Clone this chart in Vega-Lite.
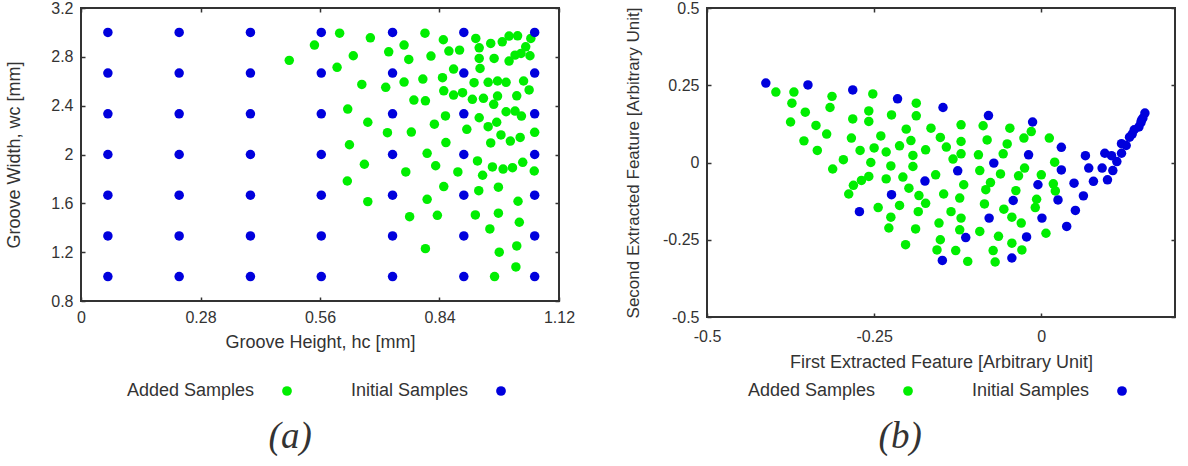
{
  "$schema": "https://vega.github.io/schema/vega-lite/v6.json",
  "background": "white",
  "padding": {"left": 4, "top": -1, "right": 0, "bottom": 0},
  "bounds": "flush",
  "spacing": 148,
  "config": {
    "view": {"stroke": "#333", "strokeWidth": 2},
    "font": "Liberation Sans",
    "axis": {
      "grid": false,
      "domain": false,
      "ticks": true,
      "tickSize": -4,
      "tickWidth": 1.5,
      "tickColor": "#333",
      "labelFont": "Liberation Sans",
      "labelFontSize": 16,
      "labelColor": "#333",
      "labelPadding": 12,
      "labelFlush": false,
      "labelOverlap": false,
      "titleFont": "Liberation Sans",
      "titleFontSize": 18,
      "titleFontWeight": "normal",
      "titleColor": "#333"
    },
    "legend": {
      "orient": "none",
      "direction": "horizontal",
      "labelFont": "Liberation Sans",
      "labelFontSize": 18,
      "labelColor": "#333",
      "labelAlign": "right",
      "labelOffset": -42,
      "symbolType": "circle",
      "symbolSize": 95,
      "symbolStrokeWidth": 0,
      "columnPadding": 58,
      "padding": 0
    },
    "title": {
      "orient": "bottom",
      "anchor": "middle",
      "frame": "bounds",
      "font": "Liberation Serif",
      "fontStyle": "italic",
      "fontWeight": "normal",
      "fontSize": 37,
      "color": "#333",
      "offset": 19
    }
  },
  "datasets": {
    "grooveSamples": [
      {"h": 0.488, "w": 2.771, "set": "Added Samples"},
      {"h": 0.547, "w": 2.896, "set": "Added Samples"},
      {"h": 0.606, "w": 2.994, "set": "Added Samples"},
      {"h": 0.678, "w": 2.956, "set": "Added Samples"},
      {"h": 0.638, "w": 2.809, "set": "Added Samples"},
      {"h": 0.600, "w": 2.714, "set": "Added Samples"},
      {"h": 0.658, "w": 2.574, "set": "Added Samples"},
      {"h": 0.714, "w": 2.550, "set": "Added Samples"},
      {"h": 0.721, "w": 2.841, "set": "Added Samples"},
      {"h": 0.757, "w": 2.896, "set": "Added Samples"},
      {"h": 0.806, "w": 2.994, "set": "Added Samples"},
      {"h": 0.768, "w": 2.779, "set": "Added Samples"},
      {"h": 0.820, "w": 2.806, "set": "Added Samples"},
      {"h": 0.849, "w": 2.940, "set": "Added Samples"},
      {"h": 0.862, "w": 2.847, "set": "Added Samples"},
      {"h": 0.887, "w": 2.855, "set": "Added Samples"},
      {"h": 0.873, "w": 2.700, "set": "Added Samples"},
      {"h": 0.757, "w": 2.593, "set": "Added Samples"},
      {"h": 0.801, "w": 2.618, "set": "Added Samples"},
      {"h": 0.847, "w": 2.629, "set": "Added Samples"},
      {"h": 0.850, "w": 2.522, "set": "Added Samples"},
      {"h": 0.873, "w": 2.487, "set": "Added Samples"},
      {"h": 0.894, "w": 2.506, "set": "Added Samples"},
      {"h": 0.780, "w": 2.446, "set": "Added Samples"},
      {"h": 0.807, "w": 2.440, "set": "Added Samples"},
      {"h": 0.925, "w": 2.951, "set": "Added Samples"},
      {"h": 0.933, "w": 2.874, "set": "Added Samples"},
      {"h": 0.933, "w": 2.787, "set": "Added Samples"},
      {"h": 0.935, "w": 2.705, "set": "Added Samples"},
      {"h": 0.960, "w": 2.910, "set": "Added Samples"},
      {"h": 0.968, "w": 2.787, "set": "Added Samples"},
      {"h": 0.987, "w": 2.923, "set": "Added Samples"},
      {"h": 1.003, "w": 2.970, "set": "Added Samples"},
      {"h": 1.023, "w": 2.972, "set": "Added Samples"},
      {"h": 1.054, "w": 2.951, "set": "Added Samples"},
      {"h": 1.042, "w": 2.882, "set": "Added Samples"},
      {"h": 1.017, "w": 2.814, "set": "Added Samples"},
      {"h": 1.031, "w": 2.828, "set": "Added Samples"},
      {"h": 1.003, "w": 2.765, "set": "Added Samples"},
      {"h": 1.052, "w": 2.809, "set": "Added Samples"},
      {"h": 0.921, "w": 2.588, "set": "Added Samples"},
      {"h": 0.954, "w": 2.591, "set": "Added Samples"},
      {"h": 0.976, "w": 2.602, "set": "Added Samples"},
      {"h": 0.996, "w": 2.591, "set": "Added Samples"},
      {"h": 1.037, "w": 2.602, "set": "Added Samples"},
      {"h": 1.050, "w": 2.529, "set": "Added Samples"},
      {"h": 0.917, "w": 2.452, "set": "Added Samples"},
      {"h": 0.943, "w": 2.460, "set": "Added Samples"},
      {"h": 0.967, "w": 2.411, "set": "Added Samples"},
      {"h": 0.976, "w": 2.479, "set": "Added Samples"},
      {"h": 1.021, "w": 2.481, "set": "Added Samples"},
      {"h": 0.996, "w": 2.350, "set": "Added Samples"},
      {"h": 1.017, "w": 2.356, "set": "Added Samples"},
      {"h": 1.032, "w": 2.315, "set": "Added Samples"},
      {"h": 0.933, "w": 2.301, "set": "Added Samples"},
      {"h": 0.974, "w": 2.264, "set": "Added Samples"},
      {"h": 0.954, "w": 2.228, "set": "Added Samples"},
      {"h": 0.904, "w": 2.206, "set": "Added Samples"},
      {"h": 0.984, "w": 2.160, "set": "Added Samples"},
      {"h": 1.006, "w": 2.110, "set": "Added Samples"},
      {"h": 1.029, "w": 2.140, "set": "Added Samples"},
      {"h": 1.063, "w": 2.182, "set": "Added Samples"},
      {"h": 0.960, "w": 2.095, "set": "Added Samples"},
      {"h": 0.854, "w": 2.316, "set": "Added Samples"},
      {"h": 0.828, "w": 2.248, "set": "Added Samples"},
      {"h": 0.855, "w": 2.098, "set": "Added Samples"},
      {"h": 0.625, "w": 2.372, "set": "Added Samples"},
      {"h": 0.672, "w": 2.264, "set": "Added Samples"},
      {"h": 0.629, "w": 2.080, "set": "Added Samples"},
      {"h": 0.664, "w": 1.920, "set": "Added Samples"},
      {"h": 0.624, "w": 1.783, "set": "Added Samples"},
      {"h": 0.672, "w": 1.614, "set": "Added Samples"},
      {"h": 0.718, "w": 2.179, "set": "Added Samples"},
      {"h": 0.774, "w": 2.184, "set": "Added Samples"},
      {"h": 0.761, "w": 1.857, "set": "Added Samples"},
      {"h": 0.811, "w": 2.010, "set": "Added Samples"},
      {"h": 0.831, "w": 1.908, "set": "Added Samples"},
      {"h": 0.850, "w": 1.737, "set": "Added Samples"},
      {"h": 0.883, "w": 1.857, "set": "Added Samples"},
      {"h": 0.929, "w": 1.947, "set": "Added Samples"},
      {"h": 0.941, "w": 1.830, "set": "Added Samples"},
      {"h": 0.964, "w": 1.898, "set": "Added Samples"},
      {"h": 0.989, "w": 1.881, "set": "Added Samples"},
      {"h": 1.011, "w": 1.892, "set": "Added Samples"},
      {"h": 1.035, "w": 1.936, "set": "Added Samples"},
      {"h": 1.062, "w": 1.865, "set": "Added Samples"},
      {"h": 0.932, "w": 1.704, "set": "Added Samples"},
      {"h": 0.978, "w": 1.732, "set": "Added Samples"},
      {"h": 0.811, "w": 1.633, "set": "Added Samples"},
      {"h": 0.770, "w": 1.491, "set": "Added Samples"},
      {"h": 0.835, "w": 1.502, "set": "Added Samples"},
      {"h": 0.924, "w": 1.505, "set": "Added Samples"},
      {"h": 0.978, "w": 1.519, "set": "Added Samples"},
      {"h": 1.024, "w": 1.617, "set": "Added Samples"},
      {"h": 1.027, "w": 1.445, "set": "Added Samples"},
      {"h": 0.958, "w": 1.390, "set": "Added Samples"},
      {"h": 0.807, "w": 1.229, "set": "Added Samples"},
      {"h": 0.980, "w": 1.200, "set": "Added Samples"},
      {"h": 1.021, "w": 1.251, "set": "Added Samples"},
      {"h": 1.019, "w": 1.079, "set": "Added Samples"},
      {"h": 0.969, "w": 1.000, "set": "Added Samples"},
      {"h": 0.063, "w": 1.000, "set": "Initial Samples"},
      {"h": 0.063, "w": 1.333, "set": "Initial Samples"},
      {"h": 0.063, "w": 1.667, "set": "Initial Samples"},
      {"h": 0.063, "w": 2.000, "set": "Initial Samples"},
      {"h": 0.063, "w": 2.333, "set": "Initial Samples"},
      {"h": 0.063, "w": 2.667, "set": "Initial Samples"},
      {"h": 0.063, "w": 3.000, "set": "Initial Samples"},
      {"h": 0.230, "w": 1.000, "set": "Initial Samples"},
      {"h": 0.230, "w": 1.333, "set": "Initial Samples"},
      {"h": 0.230, "w": 1.667, "set": "Initial Samples"},
      {"h": 0.230, "w": 2.000, "set": "Initial Samples"},
      {"h": 0.230, "w": 2.333, "set": "Initial Samples"},
      {"h": 0.230, "w": 2.667, "set": "Initial Samples"},
      {"h": 0.230, "w": 3.000, "set": "Initial Samples"},
      {"h": 0.397, "w": 1.000, "set": "Initial Samples"},
      {"h": 0.397, "w": 1.333, "set": "Initial Samples"},
      {"h": 0.397, "w": 1.667, "set": "Initial Samples"},
      {"h": 0.397, "w": 2.000, "set": "Initial Samples"},
      {"h": 0.397, "w": 2.333, "set": "Initial Samples"},
      {"h": 0.397, "w": 2.667, "set": "Initial Samples"},
      {"h": 0.397, "w": 3.000, "set": "Initial Samples"},
      {"h": 0.563, "w": 1.000, "set": "Initial Samples"},
      {"h": 0.563, "w": 1.333, "set": "Initial Samples"},
      {"h": 0.563, "w": 1.667, "set": "Initial Samples"},
      {"h": 0.563, "w": 2.000, "set": "Initial Samples"},
      {"h": 0.563, "w": 2.333, "set": "Initial Samples"},
      {"h": 0.563, "w": 2.667, "set": "Initial Samples"},
      {"h": 0.563, "w": 3.000, "set": "Initial Samples"},
      {"h": 0.730, "w": 1.000, "set": "Initial Samples"},
      {"h": 0.730, "w": 1.333, "set": "Initial Samples"},
      {"h": 0.730, "w": 1.667, "set": "Initial Samples"},
      {"h": 0.730, "w": 2.000, "set": "Initial Samples"},
      {"h": 0.730, "w": 2.333, "set": "Initial Samples"},
      {"h": 0.730, "w": 2.667, "set": "Initial Samples"},
      {"h": 0.730, "w": 3.000, "set": "Initial Samples"},
      {"h": 0.897, "w": 1.000, "set": "Initial Samples"},
      {"h": 0.897, "w": 1.333, "set": "Initial Samples"},
      {"h": 0.897, "w": 1.667, "set": "Initial Samples"},
      {"h": 0.897, "w": 2.000, "set": "Initial Samples"},
      {"h": 0.897, "w": 2.333, "set": "Initial Samples"},
      {"h": 0.897, "w": 2.667, "set": "Initial Samples"},
      {"h": 0.897, "w": 3.000, "set": "Initial Samples"},
      {"h": 1.063, "w": 1.000, "set": "Initial Samples"},
      {"h": 1.063, "w": 1.333, "set": "Initial Samples"},
      {"h": 1.063, "w": 1.667, "set": "Initial Samples"},
      {"h": 1.063, "w": 2.000, "set": "Initial Samples"},
      {"h": 1.063, "w": 2.333, "set": "Initial Samples"},
      {"h": 1.063, "w": 2.667, "set": "Initial Samples"},
      {"h": 1.063, "w": 3.000, "set": "Initial Samples"}
    ],
    "featureSamples": [
      {"f1": -0.397, "f2": 0.228, "set": "Added Samples"},
      {"f1": -0.370, "f2": 0.228, "set": "Added Samples"},
      {"f1": -0.373, "f2": 0.192, "set": "Added Samples"},
      {"f1": -0.375, "f2": 0.131, "set": "Added Samples"},
      {"f1": -0.353, "f2": 0.163, "set": "Added Samples"},
      {"f1": -0.337, "f2": 0.120, "set": "Added Samples"},
      {"f1": -0.355, "f2": 0.070, "set": "Added Samples"},
      {"f1": -0.321, "f2": 0.092, "set": "Added Samples"},
      {"f1": -0.335, "f2": 0.039, "set": "Added Samples"},
      {"f1": -0.313, "f2": 0.214, "set": "Added Samples"},
      {"f1": -0.316, "f2": 0.178, "set": "Added Samples"},
      {"f1": -0.296, "f2": 0.009, "set": "Added Samples"},
      {"f1": -0.312, "f2": -0.021, "set": "Added Samples"},
      {"f1": -0.252, "f2": 0.222, "set": "Added Samples"},
      {"f1": -0.258, "f2": 0.167, "set": "Added Samples"},
      {"f1": -0.258, "f2": 0.133, "set": "Added Samples"},
      {"f1": -0.282, "f2": 0.141, "set": "Added Samples"},
      {"f1": -0.284, "f2": 0.079, "set": "Added Samples"},
      {"f1": -0.271, "f2": 0.039, "set": "Added Samples"},
      {"f1": -0.240, "f2": 0.086, "set": "Added Samples"},
      {"f1": -0.250, "f2": 0.047, "set": "Added Samples"},
      {"f1": -0.255, "f2": 0.000, "set": "Added Samples"},
      {"f1": -0.232, "f2": 0.034, "set": "Added Samples"},
      {"f1": -0.225, "f2": -0.011, "set": "Added Samples"},
      {"f1": -0.232, "f2": -0.053, "set": "Added Samples"},
      {"f1": -0.258, "f2": -0.045, "set": "Added Samples"},
      {"f1": -0.269, "f2": -0.058, "set": "Added Samples"},
      {"f1": -0.281, "f2": -0.074, "set": "Added Samples"},
      {"f1": -0.288, "f2": -0.102, "set": "Added Samples"},
      {"f1": -0.224, "f2": 0.154, "set": "Added Samples"},
      {"f1": -0.187, "f2": 0.192, "set": "Added Samples"},
      {"f1": -0.187, "f2": 0.151, "set": "Added Samples"},
      {"f1": -0.202, "f2": 0.108, "set": "Added Samples"},
      {"f1": -0.195, "f2": 0.071, "set": "Added Samples"},
      {"f1": -0.212, "f2": 0.054, "set": "Added Samples"},
      {"f1": -0.192, "f2": 0.023, "set": "Added Samples"},
      {"f1": -0.173, "f2": 0.041, "set": "Added Samples"},
      {"f1": -0.192, "f2": -0.013, "set": "Added Samples"},
      {"f1": -0.207, "f2": -0.047, "set": "Added Samples"},
      {"f1": -0.198, "f2": -0.083, "set": "Added Samples"},
      {"f1": -0.183, "f2": -0.107, "set": "Added Samples"},
      {"f1": -0.173, "f2": -0.132, "set": "Added Samples"},
      {"f1": -0.184, "f2": -0.159, "set": "Added Samples"},
      {"f1": -0.212, "f2": -0.139, "set": "Added Samples"},
      {"f1": -0.244, "f2": -0.146, "set": "Added Samples"},
      {"f1": -0.225, "f2": -0.177, "set": "Added Samples"},
      {"f1": -0.228, "f2": -0.212, "set": "Added Samples"},
      {"f1": -0.188, "f2": -0.215, "set": "Added Samples"},
      {"f1": -0.203, "f2": -0.266, "set": "Added Samples"},
      {"f1": -0.165, "f2": 0.111, "set": "Added Samples"},
      {"f1": -0.151, "f2": 0.081, "set": "Added Samples"},
      {"f1": -0.142, "f2": 0.050, "set": "Added Samples"},
      {"f1": -0.132, "f2": 0.011, "set": "Added Samples"},
      {"f1": -0.158, "f2": -0.040, "set": "Added Samples"},
      {"f1": -0.146, "f2": -0.102, "set": "Added Samples"},
      {"f1": -0.135, "f2": -0.159, "set": "Added Samples"},
      {"f1": -0.153, "f2": -0.196, "set": "Added Samples"},
      {"f1": -0.151, "f2": -0.250, "set": "Added Samples"},
      {"f1": -0.156, "f2": -0.283, "set": "Added Samples"},
      {"f1": -0.128, "f2": -0.285, "set": "Added Samples"},
      {"f1": -0.120, "f2": 0.122, "set": "Added Samples"},
      {"f1": -0.120, "f2": 0.068, "set": "Added Samples"},
      {"f1": -0.120, "f2": 0.028, "set": "Added Samples"},
      {"f1": -0.116, "f2": -0.072, "set": "Added Samples"},
      {"f1": -0.122, "f2": -0.115, "set": "Added Samples"},
      {"f1": -0.120, "f2": -0.180, "set": "Added Samples"},
      {"f1": -0.122, "f2": -0.218, "set": "Added Samples"},
      {"f1": -0.110, "f2": -0.320, "set": "Added Samples"},
      {"f1": -0.094, "f2": 0.025, "set": "Added Samples"},
      {"f1": -0.092, "f2": -0.026, "set": "Added Samples"},
      {"f1": -0.087, "f2": 0.119, "set": "Added Samples"},
      {"f1": -0.081, "f2": 0.073, "set": "Added Samples"},
      {"f1": -0.092, "f2": -0.223, "set": "Added Samples"},
      {"f1": -0.085, "f2": -0.134, "set": "Added Samples"},
      {"f1": -0.083, "f2": -0.088, "set": "Added Samples"},
      {"f1": -0.076, "f2": -0.065, "set": "Added Samples"},
      {"f1": -0.072, "f2": -0.285, "set": "Added Samples"},
      {"f1": -0.069, "f2": -0.322, "set": "Added Samples"},
      {"f1": -0.064, "f2": -0.239, "set": "Added Samples"},
      {"f1": -0.061, "f2": -0.037, "set": "Added Samples"},
      {"f1": -0.057, "f2": 0.028, "set": "Added Samples"},
      {"f1": -0.051, "f2": 0.060, "set": "Added Samples"},
      {"f1": -0.047, "f2": 0.111, "set": "Added Samples"},
      {"f1": -0.056, "f2": -0.151, "set": "Added Samples"},
      {"f1": -0.044, "f2": -0.177, "set": "Added Samples"},
      {"f1": -0.038, "f2": -0.091, "set": "Added Samples"},
      {"f1": -0.044, "f2": -0.261, "set": "Added Samples"},
      {"f1": -0.030, "f2": -0.196, "set": "Added Samples"},
      {"f1": -0.029, "f2": -0.283, "set": "Added Samples"},
      {"f1": -0.034, "f2": -0.043, "set": "Added Samples"},
      {"f1": -0.025, "f2": -0.018, "set": "Added Samples"},
      {"f1": -0.026, "f2": 0.079, "set": "Added Samples"},
      {"f1": -0.015, "f2": 0.100, "set": "Added Samples"},
      {"f1": -0.007, "f2": -0.119, "set": "Added Samples"},
      {"f1": -0.009, "f2": -0.146, "set": "Added Samples"},
      {"f1": 0.000, "f2": -0.040, "set": "Added Samples"},
      {"f1": 0.012, "f2": 0.079, "set": "Added Samples"},
      {"f1": 0.020, "f2": 0.001, "set": "Added Samples"},
      {"f1": 0.018, "f2": -0.069, "set": "Added Samples"},
      {"f1": 0.021, "f2": -0.092, "set": "Added Samples"},
      {"f1": 0.007, "f2": -0.229, "set": "Added Samples"},
      {"f1": -0.412, "f2": 0.257, "set": "Initial Samples"},
      {"f1": -0.349, "f2": 0.251, "set": "Initial Samples"},
      {"f1": -0.282, "f2": 0.235, "set": "Initial Samples"},
      {"f1": -0.215, "f2": 0.206, "set": "Initial Samples"},
      {"f1": -0.147, "f2": 0.178, "set": "Initial Samples"},
      {"f1": -0.125, "f2": -0.027, "set": "Initial Samples"},
      {"f1": -0.174, "f2": -0.060, "set": "Initial Samples"},
      {"f1": -0.224, "f2": -0.104, "set": "Initial Samples"},
      {"f1": -0.272, "f2": -0.159, "set": "Initial Samples"},
      {"f1": -0.148, "f2": -0.317, "set": "Initial Samples"},
      {"f1": -0.113, "f2": -0.243, "set": "Initial Samples"},
      {"f1": -0.079, "f2": 0.152, "set": "Initial Samples"},
      {"f1": -0.071, "f2": -0.002, "set": "Initial Samples"},
      {"f1": -0.078, "f2": -0.180, "set": "Initial Samples"},
      {"f1": -0.042, "f2": -0.123, "set": "Initial Samples"},
      {"f1": -0.044, "f2": -0.309, "set": "Initial Samples"},
      {"f1": -0.013, "f2": 0.131, "set": "Initial Samples"},
      {"f1": -0.019, "f2": 0.025, "set": "Initial Samples"},
      {"f1": -0.005, "f2": -0.072, "set": "Initial Samples"},
      {"f1": 0.001, "f2": -0.180, "set": "Initial Samples"},
      {"f1": -0.022, "f2": -0.241, "set": "Initial Samples"},
      {"f1": 0.030, "f2": 0.049, "set": "Initial Samples"},
      {"f1": 0.030, "f2": -0.024, "set": "Initial Samples"},
      {"f1": 0.025, "f2": -0.121, "set": "Initial Samples"},
      {"f1": 0.038, "f2": -0.207, "set": "Initial Samples"},
      {"f1": 0.049, "f2": -0.067, "set": "Initial Samples"},
      {"f1": 0.063, "f2": -0.108, "set": "Initial Samples"},
      {"f1": 0.051, "f2": -0.155, "set": "Initial Samples"},
      {"f1": 0.066, "f2": 0.022, "set": "Initial Samples"},
      {"f1": 0.071, "f2": -0.018, "set": "Initial Samples"},
      {"f1": 0.078, "f2": -0.061, "set": "Initial Samples"},
      {"f1": 0.091, "f2": -0.018, "set": "Initial Samples"},
      {"f1": 0.099, "f2": -0.056, "set": "Initial Samples"},
      {"f1": 0.107, "f2": -0.026, "set": "Initial Samples"},
      {"f1": 0.095, "f2": 0.030, "set": "Initial Samples"},
      {"f1": 0.105, "f2": 0.022, "set": "Initial Samples"},
      {"f1": 0.113, "f2": 0.003, "set": "Initial Samples"},
      {"f1": 0.120, "f2": 0.030, "set": "Initial Samples"},
      {"f1": 0.120, "f2": 0.061, "set": "Initial Samples"},
      {"f1": 0.127, "f2": 0.055, "set": "Initial Samples"},
      {"f1": 0.132, "f2": 0.082, "set": "Initial Samples"},
      {"f1": 0.136, "f2": 0.092, "set": "Initial Samples"},
      {"f1": 0.139, "f2": 0.106, "set": "Initial Samples"},
      {"f1": 0.146, "f2": 0.115, "set": "Initial Samples"},
      {"f1": 0.149, "f2": 0.129, "set": "Initial Samples"},
      {"f1": 0.150, "f2": 0.137, "set": "Initial Samples"},
      {"f1": 0.152, "f2": 0.144, "set": "Initial Samples"},
      {"f1": 0.155, "f2": 0.160, "set": "Initial Samples"}
    ]
  },
  "hconcat": [
    {
      "width": 478,
      "height": 293,
      "title": {"text": "(a)"},
      "data": {"name": "grooveSamples"},
      "layer": [
        {
          "mark": {"type": "point", "filled": true, "opacity": 1, "size": 90},
          "encoding": {
            "x": {
              "field": "h", "type": "quantitative",
              "scale": {"domain": [0, 1.12], "nice": false, "zero": false},
              "axis": {"values": [0, 0.28, 0.56, 0.84, 1.12], "labelExpr": "'' + datum.value", "title": "Groove Height, hc [mm]", "titlePadding": 8}
            },
            "y": {
              "field": "w", "type": "quantitative",
              "scale": {"domain": [0.8, 3.2], "nice": false, "zero": false},
              "axis": {"values": [0.8, 1.2, 1.6, 2, 2.4, 2.8, 3.2], "labelExpr": "'' + datum.value", "title": "Groove Width, wc [mm]", "titlePadding": 27}
            },
            "color": {
              "field": "set", "type": "nominal",
              "scale": {"domain": ["Added Samples", "Initial Samples"], "range": ["#00ee00", "#0000dd"]},
              "legend": {"title": null, "legendX": 197, "legendY": 374}
            }
          }
        },
        {
          "mark": {"type": "point", "opacity": 0},
          "encoding": {
            "x": {"field": "h", "type": "quantitative", "axis": {"orient": "top", "values": [0, 0.28, 0.56, 0.84, 1.12], "labels": false, "title": null}},
            "y": {"field": "w", "type": "quantitative", "axis": {"orient": "right", "values": [0.8, 1.2, 1.6, 2, 2.4, 2.8, 3.2], "labels": false, "title": null}}
          }
        }
      ],
      "resolve": {"axis": {"x": "independent", "y": "independent"}}
    },
    {
      "width": 468,
      "height": 309,
      "title": {"text": "(b)"},
      "data": {"name": "featureSamples"},
      "layer": [
        {
          "mark": {"type": "point", "filled": true, "opacity": 1, "size": 90},
          "encoding": {
            "x": {
              "field": "f1", "type": "quantitative",
              "scale": {"domain": [-0.5, 0.2], "nice": false, "zero": false},
              "axis": {"values": [-0.5, -0.25, 0], "labelExpr": "'' + datum.value", "title": "First Extracted Feature [Arbitrary Unit]", "labelPadding": 15, "titlePadding": 9}
            },
            "y": {
              "field": "f2", "type": "quantitative",
              "scale": {"domain": [-0.5, 0.5], "nice": false, "zero": false},
              "axis": {"values": [-0.5, -0.25, 0, 0.25, 0.5], "labelExpr": "'' + datum.value", "title": "Second Extracted Feature [Arbitrary Unit]", "titleFontSize": 17, "titlePadding": 20}
            },
            "color": {
              "field": "set", "type": "nominal",
              "scale": {"domain": ["Added Samples", "Initial Samples"], "range": ["#00ee00", "#0000dd"]},
              "legend": {"title": null, "legendX": 192, "legendY": 374}
            }
          }
        },
        {
          "mark": {"type": "point", "opacity": 0},
          "encoding": {
            "x": {"field": "f1", "type": "quantitative", "axis": {"orient": "top", "values": [-0.5, -0.25, 0], "labels": false, "title": null}},
            "y": {"field": "f2", "type": "quantitative", "axis": {"orient": "right", "values": [-0.5, -0.25, 0, 0.25, 0.5], "labels": false, "title": null}}
          }
        }
      ],
      "resolve": {"axis": {"x": "independent", "y": "independent"}}
    }
  ],
  "resolve": {"scale": {"color": "independent"}, "legend": {"color": "independent"}}
}
